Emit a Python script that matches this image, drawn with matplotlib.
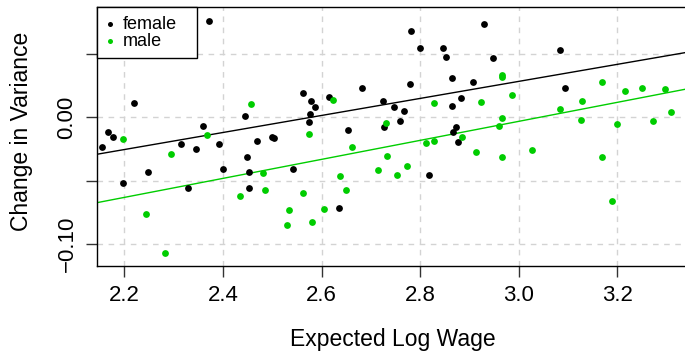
import numpy as np
import matplotlib
matplotlib.use("Agg")
import matplotlib.pyplot as plt

plt.rcParams['font.family'] = ['Liberation Sans', 'DejaVu Sans']

female_x = [2.3724, 2.2197, 2.4454, 2.1663, 2.1765, 2.1554, 2.3590, 2.4990, 2.5043, 2.4698,
            2.3150, 2.3448, 2.3921, 2.4495, 2.2481, 2.3996, 2.4535, 2.5432, 2.1968, 2.3286,
            2.4529, 2.7815, 2.9296, 2.8004, 2.8458, 2.8519, 2.8647, 2.9067, 2.7801, 2.6828,
            2.5625, 2.5793, 2.5862, 2.6152, 2.7247, 2.8836, 2.8641, 2.7465, 2.7680, 2.5761,
            2.5746, 2.7586, 2.7268, 2.6538, 2.8728, 2.8661, 2.8769, 2.6349, 2.8174, 3.0844,
            2.9473, 3.0945]
female_y = [0.0761, 0.0112, 0.0012, -0.0112, -0.0157, -0.0231, -0.0070, -0.0157, -0.0162, -0.0186,
            -0.0210, -0.0249, -0.0212, -0.0313, -0.0429, -0.0410, -0.0429, -0.0409, -0.0516, -0.0560,
            -0.0555, 0.0684, 0.0737, 0.0552, 0.0552, 0.0476, 0.0310, 0.0283, 0.0265, 0.0236,
            0.0191, 0.0131, 0.0085, 0.0160, 0.0131, 0.0157, 0.0091, 0.0081, 0.0054, 0.0028,
            -0.0033, -0.0025, -0.0078, -0.0101, -0.0073, -0.0112, -0.0191, -0.0714, -0.0457, 0.0536,
            0.0468, 0.0231]

male_x = [2.4564, 2.1980, 2.3677, 2.2941, 2.4807, 2.4347, 2.4854, 2.2440, 2.5335, 2.5294,
          2.2832, 2.6233, 2.8276, 2.9241, 2.7314, 2.5746, 2.8844, 2.8120, 2.8288, 2.9140,
          2.6625, 2.7323, 2.7140, 2.7728, 2.7538, 2.6381, 2.5625, 2.6497, 2.6045, 2.5813,
          2.9655, 2.9655, 3.1696, 2.9864, 3.2159, 3.2501, 3.2974, 3.0832, 3.1284, 3.3095,
          2.9667, 2.9606, 3.1270, 3.2000, 3.2724, 2.9655, 3.0270, 3.1690, 3.1892]
male_y = [0.0109, -0.0172, -0.0138, -0.0286, -0.0441, -0.0619, -0.0574, -0.0761, -0.0729, -0.0850,
          -0.1070, 0.0141, 0.0112, 0.0123, -0.0046, -0.0133, -0.0157, -0.0202, -0.0186, -0.0271,
          -0.0236, -0.0302, -0.0418, -0.0386, -0.0457, -0.0465, -0.0595, -0.0574, -0.0722, -0.0827,
          0.0339, 0.0323, 0.0283, 0.0180, 0.0210, 0.0233, 0.0225, 0.0070, 0.0133, 0.0041,
          -0.0006, -0.0065, -0.0020, -0.0049, -0.0030, -0.0313, -0.0257, -0.0313, -0.0658]

# fitted lines (intercept, slope)
female_line = (-0.17365, 0.0674)
male_line = (-0.22867, 0.0752)

x_ticks = [2.2, 2.4, 2.6, 2.8, 3.0, 3.2]
x_ticklabels = ["2.2", "2.4", "2.6", "2.8", "3.0", "3.2"]
y_ticks = [-0.10, -0.05, 0.00, 0.05]
y_ticklabels = ["\u22120.10", "", "0.00", ""]

GREEN = "#00CD00"

fig = plt.figure(figsize=(6.85, 3.53), dpi=100)
ax = fig.add_axes([97/685, (353-266)/353, (690-97)/685, (266-7)/353])
xlim = (2.1446, 3.3475)
ax.set_xlim(*xlim)
ax.set_ylim(-0.1175, 0.0874)

for xv in x_ticks:
    ax.axvline(xv, color="#D3D3D3", lw=1.0, ls=(0, (4, 4)), zorder=0)
for yv in y_ticks:
    ax.axhline(yv, color="#D3D3D3", lw=1.0, ls=(0, (4, 4)), zorder=0)

ax.scatter(female_x, female_y, s=24, color="black", linewidths=0, zorder=3)
ax.scatter(male_x, male_y, s=24, color=GREEN, linewidths=0, zorder=3)

xx = np.array(xlim)
ax.plot(xx, female_line[0] + female_line[1]*xx, color="black", lw=1.0, zorder=2)
ax.plot(xx, male_line[0] + male_line[1]*xx, color=GREEN, lw=1.0, zorder=2)

ax.set_xticks(x_ticks)
ax.set_xticklabels(x_ticklabels, fontsize=16)
ax.set_yticks(y_ticks)
ax.set_yticklabels(y_ticklabels, fontsize=16, rotation=90, va="center")
ax.tick_params(direction="out", length=8, width=1.0, pad=6, color="#333333")
ax.set_xlabel("Expected Log Wage", fontsize=16.5, va="center")
ax.xaxis.set_label_coords(0.498, -0.2857)
ax.set_ylabel("Change in Variance", fontsize=16.5, va="center")
ax.yaxis.set_label_coords(-0.127, 0.521)
for s in ax.spines.values():
    s.set_linewidth(1.0)

h1 = ax.scatter([], [], s=13, color="black", linewidths=0)
h2 = ax.scatter([], [], s=13, color=GREEN, linewidths=0)
leg = ax.legend([h1, h2], ["female", "male"], loc="upper left",
                bbox_to_anchor=(0, 0.5, (197-97)/593, 0.5), mode="expand",
                borderaxespad=0, fontsize=13, frameon=True, fancybox=False,
                edgecolor="black", framealpha=1, handletextpad=0.48, handlelength=0.48,
                labelspacing=0.0, borderpad=0.48)
leg.get_frame().set_linewidth(1.0)

fig.savefig("out.png", dpi=100)
